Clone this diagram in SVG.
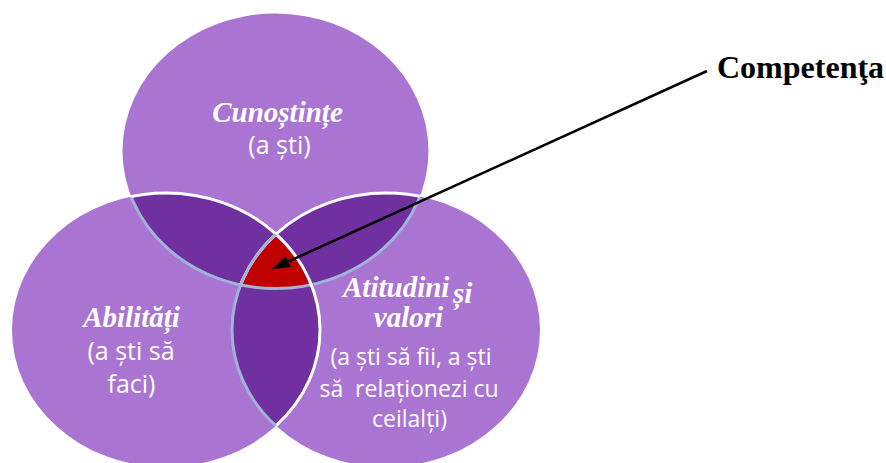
<svg xmlns="http://www.w3.org/2000/svg" width="886" height="463" viewBox="0 0 886 463">
<style>
.base{fill:#A974D2;}
.lens{fill:#7030A0;}
.core{fill:#C00000;}
.edge-w{fill:none;stroke:#FFFFFF;stroke-width:3;}
.edge-b{fill:none;stroke:#A0B4D8;stroke-width:3;}
.head{font-family:"Liberation Serif","Times New Roman",serif;font-weight:bold;font-style:italic;font-size:29px;fill:#FFFFFF;}
.sub{font-family:"Open Sans","Liberation Sans",sans-serif;fill:#FFFFFF;}
.title{font-family:"Liberation Serif","Times New Roman",serif;font-weight:bold;font-size:32px;fill:#000000;}
.conn{stroke:#000000;stroke-width:2.5;fill:none;}
</style>
<defs>
<ellipse id="eT" cx="275.5" cy="151" rx="153" ry="137.5"/>
<ellipse id="eL" cx="166" cy="330" rx="154" ry="137"/>
<ellipse id="eR" cx="386" cy="330" rx="154" ry="137"/>
<clipPath id="cT"><use href="#eT"/></clipPath>
<clipPath id="cL"><use href="#eL"/></clipPath>
<clipPath id="cLR"><use href="#eL"/><use href="#eR"/></clipPath>
<clipPath id="cTR"><use href="#eT"/><use href="#eR"/></clipPath>
<marker id="arrow" markerUnits="userSpaceOnUse" markerWidth="18" markerHeight="12" viewBox="0 0 18 12" refX="0" refY="6" orient="auto">
<path d="M0,0 L18,6 L0,12 Z" fill="#000000"/>
</marker>
</defs>
<g id="circles">
<use href="#eT" class="base"/>
<use href="#eL" class="base"/>
<use href="#eR" class="base"/>
<use href="#eL" class="lens" clip-path="url(#cT)"/>
<use href="#eR" class="lens" clip-path="url(#cT)"/>
<use href="#eR" class="lens" clip-path="url(#cL)"/>
<g clip-path="url(#cT)"><use href="#eR" class="core" clip-path="url(#cL)"/></g>
<use href="#eT" class="edge-b" clip-path="url(#cLR)"/>
<use href="#eL" class="edge-w" clip-path="url(#cTR)"/>
<use href="#eR" class="edge-w" clip-path="url(#cT)"/>
<use href="#eR" class="edge-b" clip-path="url(#cL)"/>
</g>
<g id="node-cunostinte">
<text class="head" x="277.5" y="122" text-anchor="middle">Cunoștințe</text>
<text class="sub" x="279.5" y="154" font-size="25" text-anchor="middle">(a ști)</text>
</g>
<g id="node-abilitati">
<text class="head" x="131.5" y="327" text-anchor="middle">Abilități</text>
<text class="sub" x="131" y="360" font-size="25" text-anchor="middle">(a ști să</text>
<text class="sub" x="131.5" y="393" font-size="25" text-anchor="middle">faci)</text>
</g>
<g id="node-atitudini">
<text class="head" x="343" y="297">Atitudini</text>
<text class="head" x="453" y="303">și</text>
<text class="head" x="408.5" y="327" text-anchor="middle">valori</text>
<text class="sub" x="411" y="365" font-size="23" text-anchor="middle">(a ști să fii, a ști</text>
<text class="sub" x="409" y="397" font-size="23" text-anchor="middle" style="white-space:pre">să  relaționezi cu</text>
<text class="sub" x="409.5" y="427" font-size="23" text-anchor="middle">ceilalți)</text>
</g>
<g id="node-competenta">
<text class="title" x="717" y="78">Competenţa</text>
</g>
<g id="connectors">
<line class="conn" x1="707" y1="71" x2="288.4" y2="261.5" marker-end="url(#arrow)"/>
</g>
</svg>
